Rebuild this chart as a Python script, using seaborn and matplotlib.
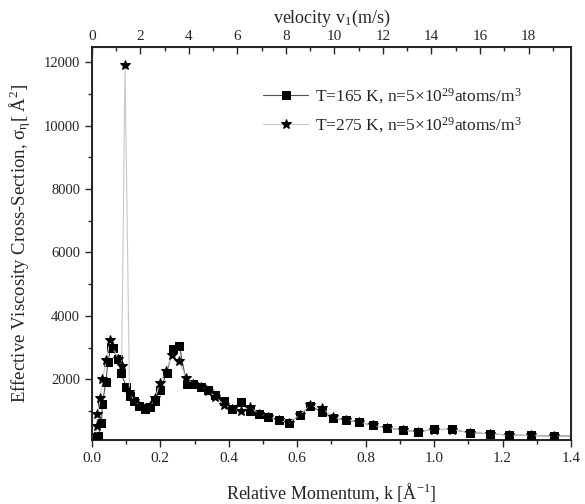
import numpy as np
import pandas as pd
import seaborn as sns
import matplotlib.pyplot as plt
from matplotlib.ticker import MultipleLocator

# T = 165 K (squares)
k165 = [0.008, 0.018, 0.028, 0.031, 0.041, 0.047, 0.056, 0.062, 0.076, 0.086,
        0.100, 0.111, 0.124, 0.139, 0.155, 0.170, 0.185, 0.199, 0.219, 0.236,
        0.256, 0.277, 0.297, 0.318, 0.338, 0.361, 0.385, 0.409, 0.435, 0.461,
        0.487, 0.516, 0.546, 0.575, 0.607, 0.637, 0.672, 0.706, 0.742, 0.781,
        0.822, 0.862, 0.908, 0.952, 1.000, 1.051, 1.105, 1.162, 1.220, 1.284,
        1.350, 1.420]
sig165 = [200, 210, 630, 1240, 1930, 2560, 3000, 2980, 2630, 2190,
          1770, 1475, 1316, 1158, 1075, 1139, 1316, 1663, 2210, 2947,
          3050, 1842, 1842, 1770, 1663, 1495, 1316, 1075, 1284, 1000,
          918, 823, 716, 634, 864, 1170, 970, 792, 716, 653,
          549, 476, 401, 350, 423, 423, 319, 287, 243, 233,
          211, 220]

# T = 275 K (stars)
k275 = [0.010, 0.014, 0.016, 0.025, 0.031, 0.042, 0.053, 0.060, 0.077, 0.087,
        0.097, 0.110, 0.124, 0.139, 0.155, 0.170, 0.185, 0.199, 0.217, 0.233,
        0.255, 0.275, 0.297, 0.318, 0.338, 0.361, 0.385, 0.409, 0.435, 0.461,
        0.487, 0.516, 0.546, 0.575, 0.607, 0.637, 0.672, 0.706, 0.742, 0.781,
        0.822, 0.862, 0.908, 0.952, 1.000, 1.051, 1.105, 1.162, 1.220, 1.284,
        1.350, 1.420]
sig275 = [200, 520, 900, 1420, 2000, 2600, 3240, 3050, 2650, 2420,
          11900, 1600, 1330, 1170, 1090, 1150, 1400, 1900, 2280, 2757,
          2578, 2053, 1840, 1760, 1640, 1450, 1200, 1075, 1000, 1139,
          918, 823, 716, 634, 870, 1180, 1107, 800, 720, 660,
          550, 480, 400, 350, 420, 420, 320, 287, 243, 233,
          211, 215]

lbl165 = r"T=165 K, n=5$\times$10$^{29}$atoms/m$^3$"
lbl275 = r"T=275 K, n=5$\times$10$^{29}$atoms/m$^3$"

k_max = 1.4
v_per_k = 19.75 / 1.4   # velocity axis scale

sns.set_style("ticks")
plt.rcParams['font.family'] = ['Liberation Serif', 'DejaVu Serif']
plt.rcParams['mathtext.fontset'] = 'custom'
plt.rcParams['mathtext.rm'] = 'Liberation Serif'
plt.rcParams['mathtext.it'] = 'Liberation Serif:italic'

df165 = pd.DataFrame({"k": k165, "sigma": sig165})
df275 = pd.DataFrame({"k": k275, "sigma": sig275})

fig = plt.figure(figsize=(5.85, 5.04), dpi=100)
ax = fig.add_axes([0.157, 0.127, 0.819, 0.78])

sns.lineplot(data=df165, x="k", y="sigma", ax=ax, color="#505050", lw=0.8,
             marker="s", markersize=5.2, markerfacecolor="black",
             markeredgecolor="black", label=lbl165, sort=False)
sns.lineplot(data=df275, x="k", y="sigma", ax=ax, color="#c8c8c8", lw=0.8,
             marker="*", markersize=7.5, markerfacecolor="black",
             markeredgecolor="black", label=lbl275, sort=False)

ax.set_xlim(0, k_max)
ax.set_ylim(90, 12480)
ax.xaxis.set_major_locator(MultipleLocator(0.2))
ax.xaxis.set_minor_locator(MultipleLocator(0.1))
ax.yaxis.set_major_locator(MultipleLocator(2000))
ax.yaxis.set_minor_locator(MultipleLocator(1000))
ax.xaxis.set_major_formatter(plt.FuncFormatter(lambda v, p: f"{v:.1f}"))
ax.tick_params(which="major", direction="out", length=5, width=1, labelsize=11)
ax.tick_params(which="minor", direction="out", length=3, width=1)
ax.tick_params(axis="y", labelsize=10.5)
for s in ax.spines.values():
    s.set_linewidth(1.2)
    s.set_color("black")

ax.set_xlabel(r"Relative Momentum, k [Å$^{-1}$]", fontsize=13, labelpad=12)
ax.set_ylabel(r"Effective Viscosity Cross-Section, $\mathregular{\sigma_{\eta}}$[ Å$^2$]",
              fontsize=13.5, labelpad=8)

ax2 = ax.twiny()
ax2.set_xlim(0, k_max * v_per_k)
ax2.xaxis.set_major_locator(MultipleLocator(2))
ax2.xaxis.set_minor_locator(MultipleLocator(1))
ax2.tick_params(which="major", direction="in", length=5, width=1, labelsize=11, pad=3)
ax2.tick_params(which="minor", direction="in", length=3, width=1)
ax2.set_xlabel(r"velocity v$_\mathregular{1}$(m/s)", fontsize=13, labelpad=5)

ax.legend(loc="upper left", bbox_to_anchor=(0.325, 0.94), frameon=False,
          fontsize=12.5, handlelength=2.6, labelspacing=0.55, handletextpad=0.4)

plt.savefig("out.png", dpi=100)
